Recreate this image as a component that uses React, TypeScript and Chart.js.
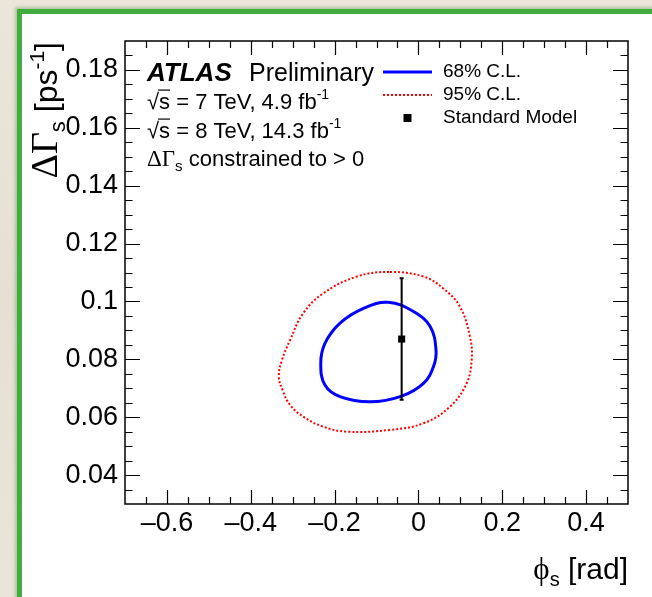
import React, { useEffect, useRef } from "react";
import { Chart, registerables } from "chart.js";

Chart.register(...registerables);

// ---------- axis ranges & ticks ----------
const X_MIN = -0.7;
const X_MAX = 0.5;
const Y_MIN = 0.03;
const Y_MAX = 0.19;
const xTickValues = [-0.6, -0.4, -0.2, 0, 0.2, 0.4];
const xTickLabels = ["\u20130.6", "\u20130.4", "\u20130.2", "0", "0.2", "0.4"];
const yTickValues = [0.04, 0.06, 0.08, 0.1, 0.12, 0.14, 0.16, 0.18];
const yTickLabels = ["0.04", "0.06", "0.08", "0.1", "0.12", "0.14", "0.16", "0.18"];
const xMinorStep = 0.05;
const yMinorStep = 0.005;

// ---------- data ----------
const cl68Phi = [-0.072, -0.012, 0.028, 0.042, 0.036, 0.012, -0.04, -0.115, -0.187, -0.223, -0.233, -0.223, -0.187, -0.131];
const cl68DGamma = [0.0997, 0.0965, 0.0913, 0.0832, 0.0775, 0.0717, 0.0673, 0.0653, 0.0671, 0.0711, 0.0786, 0.0855, 0.0925, 0.0976];

const cl95Phi = [-0.068, 0.012, 0.059, 0.099, 0.123, 0.127, 0.115, 0.075, 0.012, -0.068, -0.171, -0.227, -0.275, -0.306, -0.323, -0.333, -0.325, -0.306, -0.275, -0.227, -0.147];
const cl95DGamma = [0.1102, 0.1086, 0.1045, 0.0982, 0.0878, 0.0798, 0.0717, 0.0636, 0.0579, 0.0556, 0.055, 0.0567, 0.0602, 0.0642, 0.069, 0.074, 0.08, 0.0867, 0.0959, 0.1028, 0.1086];

const smPhi = [-0.04];
const smDGamma = [0.087];
const smErr = [0.021];

const legendLabels = ["68% C.L.", "95% C.L.", "Standard Model"];

// ---------- fonts ----------
const SANS = '"Liberation Sans", Arial, Helvetica, sans-serif';
const SERIF = '"Liberation Serif", "DejaVu Serif", "Times New Roman", serif';

type Seg = { t: string; font: string; dy?: number; over?: boolean };

function richWidth(ctx: CanvasRenderingContext2D, segs: Seg[]) {
  let w = 0;
  for (const s of segs) {
    ctx.font = s.font;
    w += ctx.measureText(s.t).width;
  }
  return w;
}

function drawRich(ctx: CanvasRenderingContext2D, segs: Seg[], x: number, y: number, align: "left" | "right") {
  let cx = align === "right" ? x - richWidth(ctx, segs) : x;
  ctx.textAlign = "left";
  ctx.textBaseline = "alphabetic";
  for (const s of segs) {
    ctx.font = s.font;
    const w = ctx.measureText(s.t).width;
    ctx.fillText(s.t, cx, y + (s.dy || 0));
    if (s.over) {
      const size = parseFloat(s.font.match(/(\d+(?:\.\d+)?)px/)![1]);
      ctx.save();
      ctx.lineWidth = 1.2;
      ctx.beginPath();
      const oy = y - size * 0.86;
      ctx.moveTo(cx - 1, oy);
      ctx.lineTo(cx + w, oy);
      ctx.stroke();
      ctx.restore();
    }
    cx += w;
  }
}

// wrap a closed contour so every drawn point has two neighbours (smooth join)
function loop(xs: number[], ys: number[]) {
  const p = xs.map((x, i) => ({ x, y: ys[i] }));
  const n = p.length;
  return [p[n - 1], ...p, p[0], p[1]];
}
const hideEnds = (total: number) => (c: any) =>
  c.p0DataIndex === 0 || c.p0DataIndex === total - 2 ? "rgba(0,0,0,0)" : undefined;

const atlasPlugin = {
  id: "atlasDecor",
  afterDatasetsDraw(chart: any) {
    const ctx: CanvasRenderingContext2D = chart.ctx;
    const xs = chart.scales.x;
    const ys = chart.scales.y;

    // SM error bar
    ctx.save();
    ctx.strokeStyle = "#000";
    ctx.lineWidth = 2;
    for (let i = 0; i < smPhi.length; i++) {
      const px = xs.getPixelForValue(smPhi[i]);
      const top = ys.getPixelForValue(smDGamma[i] + smErr[i]);
      const bot = ys.getPixelForValue(smDGamma[i] - smErr[i]);
      ctx.beginPath();
      ctx.moveTo(px, top);
      ctx.lineTo(px, bot);
      ctx.moveTo(px - 2, top);
      ctx.lineTo(px + 2, top);
      ctx.moveTo(px - 2, bot);
      ctx.lineTo(px + 2, bot);
      ctx.stroke();
    }
    ctx.restore();
  },
  afterDraw(chart: any) {
    const ctx: CanvasRenderingContext2D = chart.ctx;
    const xs = chart.scales.x;
    const ys = chart.scales.y;
    const a = chart.chartArea;
    ctx.save();
    ctx.strokeStyle = "#000";
    ctx.fillStyle = "#000";

    // frame
    ctx.lineWidth = 1.5;
    ctx.strokeRect(a.left, a.top, a.right - a.left, a.bottom - a.top);

    // ticks (inside, on all four sides)
    ctx.lineWidth = 1.2;
    ctx.beginPath();
    const isMajor = (v: number, majors: number[]) => majors.some((m) => Math.abs(m - v) < 1e-9);
    for (let v = X_MIN; v <= X_MAX + 1e-9; v += xMinorStep) {
      const vv = Math.round(v * 1000) / 1000;
      if (vv <= X_MIN + 1e-9 || vv >= X_MAX - 1e-9) continue;
      const len = isMajor(vv, xTickValues) ? 14 : 7;
      const px = Math.round(xs.getPixelForValue(vv)) + 0.5;
      ctx.moveTo(px, a.bottom);
      ctx.lineTo(px, a.bottom - len);
      ctx.moveTo(px, a.top);
      ctx.lineTo(px, a.top + len);
    }
    for (let v = Y_MIN; v <= Y_MAX + 1e-9; v += yMinorStep) {
      const vv = Math.round(v * 10000) / 10000;
      if (vv <= Y_MIN + 1e-9 || vv >= Y_MAX - 1e-9) continue;
      const len = isMajor(vv, yTickValues) ? 15 : 7.5;
      const py = Math.round(ys.getPixelForValue(vv)) + 0.5;
      ctx.moveTo(a.left, py);
      ctx.lineTo(a.left + len, py);
      ctx.moveTo(a.right, py);
      ctx.lineTo(a.right - len, py);
    }
    ctx.stroke();

    // axis titles
    drawRich(
      ctx,
      [
        { t: "\u03D5", font: `31px ${SERIF}` },
        { t: "s", font: `20px ${SANS}`, dy: 7 },
        { t: " [rad]", font: `30px ${SANS}` },
      ],
      a.right,
      579,
      "right"
    );
    ctx.save();
    ctx.translate(57, a.top + 1);
    ctx.rotate(-Math.PI / 2);
    drawRich(
      ctx,
      [
        { t: "\u0394\u0393", font: `38px ${SERIF}` },
        { t: "s", font: `22px ${SANS}`, dy: 8 },
        { t: " [ps", font: `32px ${SANS}` },
        { t: "-1", font: `21px ${SANS}`, dy: -13 },
        { t: "]", font: `32px ${SANS}` },
      ],
      0,
      0,
      "right"
    );
    ctx.restore();

    // ATLAS label & info
    ctx.textAlign = "left";
    ctx.textBaseline = "alphabetic";
    ctx.font = `italic bold 26px ${SANS}`;
    ctx.fillText("ATLAS", 147, 81);
    ctx.font = `25px ${SANS}`;
    ctx.fillText("Preliminary", 249, 81);

    drawRich(
      ctx,
      [
        { t: "\u221A", font: `22px ${SANS}` },
        { t: "s", font: `22px ${SANS}`, over: true },
        { t: " = 7 TeV, 4.9 fb", font: `22px ${SANS}` },
        { t: "-1", font: `14px ${SANS}`, dy: -10 },
      ],
      147,
      109,
      "left"
    );
    drawRich(
      ctx,
      [
        { t: "\u221A", font: `22px ${SANS}` },
        { t: "s", font: `22px ${SANS}`, over: true },
        { t: " = 8 TeV, 14.3 fb", font: `22px ${SANS}` },
        { t: "-1", font: `14px ${SANS}`, dy: -10 },
      ],
      147,
      138,
      "left"
    );
    drawRich(
      ctx,
      [
        { t: "\u0394\u0393", font: `23px ${SERIF}` },
        { t: "s", font: `15px ${SANS}`, dy: 5 },
        { t: " constrained to > 0", font: `22px ${SANS}` },
      ],
      147,
      166,
      "left"
    );

    // legend
    const ds = chart.data.datasets;
    const rowY = [72, 95, 118];
    const lx0 = 383;
    const lx1 = 432;
    ctx.font = `19px ${SANS}`;
    for (let i = 0; i < 3; i++) {
      const d = ds[i];
      ctx.save();
      if (i < 2) {
        ctx.strokeStyle = d.borderColor;
        ctx.lineWidth = d.borderWidth;
        ctx.setLineDash(d.borderDash || []);
        ctx.beginPath();
        ctx.moveTo(lx0, rowY[i]);
        ctx.lineTo(lx1, rowY[i]);
        ctx.stroke();
      } else {
        ctx.fillStyle = d.backgroundColor;
        ctx.fillRect((lx0 + lx1) / 2 - 4, rowY[i] - 4, 8, 8);
      }
      ctx.restore();
      ctx.fillStyle = "#000";
      ctx.textBaseline = "middle";
      ctx.fillText(legendLabels[i], 443, rowY[i]);
    }
    ctx.restore();
  },
};

export default function App() {
  const ref = useRef<HTMLCanvasElement>(null);

  useEffect(() => {
    if (!ref.current) return;
    const pts = (xs: number[], ys: number[]) => xs.map((x, i) => ({ x, y: ys[i] }));
    const d68 = loop(cl68Phi, cl68DGamma);
    const d95 = loop(cl95Phi, cl95DGamma);
    const chart = new Chart(ref.current, {
      type: "scatter",
      data: {
        datasets: [
          {
            label: legendLabels[0],
            data: d68,
            showLine: true,
            borderColor: "#0000ff",
            borderWidth: 3,
            pointRadius: 0,
            tension: 0.4,
            fill: false,
            segment: { borderColor: hideEnds(d68.length) },
          },
          {
            label: legendLabels[1],
            data: d95,
            showLine: true,
            borderColor: "#ff0000",
            borderWidth: 2,
            borderDash: [2, 2],
            pointRadius: 0,
            tension: 0.4,
            fill: false,
            segment: { borderColor: hideEnds(d95.length) },
          },
          {
            label: legendLabels[2],
            data: pts(smPhi, smDGamma),
            showLine: false,
            pointStyle: "rect",
            pointRadius: 5,
            backgroundColor: "#000",
            borderColor: "#000",
            borderWidth: 0,
          },
        ],
      } as any,
      options: {
        animation: false,
        responsive: false,
        devicePixelRatio: 1,
        layout: { padding: { left: 0, top: 41, right: 24, bottom: 0 } },
        plugins: { legend: { display: false }, tooltip: { enabled: false } },
        scales: {
          x: {
            type: "linear",
            min: X_MIN,
            max: X_MAX,
            grid: { display: false, drawTicks: false },
            border: { display: false },
            afterBuildTicks: (s: any) => {
              s.ticks = xTickValues.map((v) => ({ value: v }));
            },
            afterFit: (s: any) => {
              s.height = 93;
            },
            ticks: {
              autoSkip: false,
              maxRotation: 0,
              padding: 3,
              color: "#000",
              font: { family: SANS, size: 27 },
              callback: (v: any) => {
                const i = xTickValues.findIndex((t) => Math.abs(t - v) < 1e-9);
                return i >= 0 ? xTickLabels[i] : "";
              },
            },
          },
          y: {
            type: "linear",
            min: Y_MIN,
            max: Y_MAX,
            grid: { display: false, drawTicks: false },
            border: { display: false },
            afterBuildTicks: (s: any) => {
              s.ticks = yTickValues.map((v) => ({ value: v }));
            },
            afterFit: (s: any) => {
              s.width = 125;
            },
            ticks: {
              autoSkip: false,
              padding: 7,
              color: "#000",
              font: { family: SANS, size: 27 },
              callback: (v: any) => {
                const i = yTickValues.findIndex((t) => Math.abs(t - v) < 1e-9);
                return i >= 0 ? yTickLabels[i] : "";
              },
            },
          },
        },
      } as any,
      plugins: [atlasPlugin],
    });
    return () => chart.destroy();
  }, []);

  return (
    <div
      style={{
        position: "fixed",
        left: 0,
        top: 0,
        width: 652,
        height: 597,
        overflow: "hidden",
        background: "linear-gradient(180deg, #ece6da 0%, #e6dfd2 50%, #ebe5d9 100%)",
      }}
    >
      <div
        style={{
          position: "absolute",
          left: 17,
          top: 9,
          width: 700,
          height: 700,
          background: "#fff",
          border: "5px solid #3fae3f",
          boxShadow: "-2px -2px 3px rgba(60,140,60,0.35)",
        }}
      />
      <canvas ref={ref} width={652} height={597} style={{ position: "absolute", left: 0, top: 0, display: "block" }} />
    </div>
  );
}
